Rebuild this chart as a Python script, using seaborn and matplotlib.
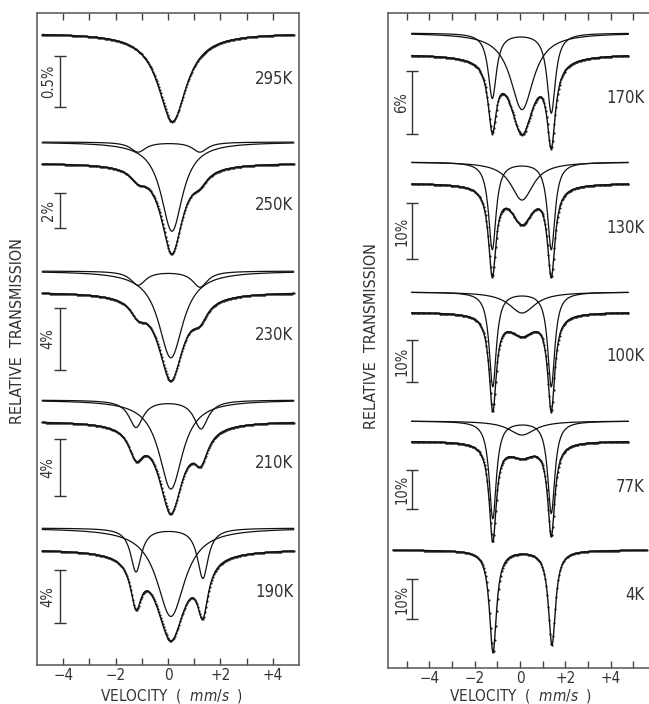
import numpy as np
import matplotlib.pyplot as plt
import seaborn as sns

# Mossbauer spectra
# line positions in mm/s, depths in %, half widths in mm/s
left_temps = ["295K", "250K", "230K", "210K", "190K"]
left_bar_pct = [0.5, 2, 4, 4, 4]
left_sing_pos = [0.17, 0.15, 0.11, 0.11, 0.11]
left_sing_depth = [0.87, 5.1, 5.6, 6.25, 6.7]
left_sing_hw = [0.66, 0.5, 0.57, 0.55, 0.65]
left_dbl_lo = [-1.14, -1.14, -1.14, -1.22, -1.22]
left_dbl_hi = [1.22, 1.22, 1.22, 1.26, 1.33]
left_dbl_depth_lo = [0.0, 0.57, 0.9, 1.9, 3.3]
left_dbl_depth_hi = [0.0, 0.57, 1.03, 2.0, 3.8]
left_dbl_hw = [0.3, 0.35, 0.35, 0.33, 0.25]

right_temps = ["170K", "130K", "100K", "77K", "4K"]
right_bar_pct = [6, 10, 10, 10, 10]
right_sing_pos = [0.09, 0.09, 0.09, 0.09, 0.09]
right_sing_depth = [7.3, 6.8, 5.0, 3.6, 0.0]
right_sing_hw = [0.62, 0.6, 0.7, 0.7, 0.6]
right_dbl_lo = [-1.22, -1.22, -1.2, -1.2, -1.19]
right_dbl_hi = [1.38, 1.38, 1.38, 1.38, 1.41]
right_dbl_depth_lo = [6.2, 15.6, 22.5, 25.0, 25.5]
right_dbl_depth_hi = [7.6, 15.6, 22.5, 23.6, 23.7]
right_dbl_hw = [0.22, 0.2, 0.19, 0.19, 0.19]

# stacking layout (vertical offsets, units per %)
left_base_fit = [None, 129, 258, 387, 515]
left_base_data = [20, 150, 279, 408, 536]
left_scale = [102, 17.5, 15.5, 14.25, 13.2]
left_bar_top = [43, 180, 295, 426, 557]
left_label_y = [66, 192, 322, 450, 579]

right_base_fit = [20, 149, 279, 408, None]
right_base_data = [41, 170, 299, 428, 537]
right_scale = [10.5, 5.6, 4.2, 3.9, 4.0]
right_bar_top = [58, 190, 327, 457, 566]
right_label_y = [85, 215, 343, 474, 582]

sns.set_style("white")
plt.rcParams["font.family"] = ["DejaVu Sans"]
plt.rcParams["font.stretch"] = "condensed"
plt.rcParams["mathtext.fontset"] = "dejavusans"
TXT = "#333333"
LINE = "#111111"


def lor(v, pos, depth, hw):
    return depth / (1 + ((v - pos) / hw) ** 2)


def draw_panel(ax, temps, bar_pct, sp, sd, sw, dlo, dhi, ddlo, ddhi, dw,
               base_fit, base_data, scale, bar_top, label_y,
               vmax, vmax_last, bar_x, pct_x, lab_x):
    for i in range(len(temps)):
        vm = vmax_last if i == len(temps) - 1 else vmax
        v = np.linspace(-vm, vm, 400)
        sing = lor(v, sp[i], sd[i], sw[i])
        dbl = lor(v, dlo[i], ddlo[i], dw[i]) + lor(v, dhi[i], ddhi[i], dw[i])
        total = sing + dbl
        k = scale[i]
        if base_fit[i] is not None:
            sns.lineplot(x=v, y=base_fit[i] + k * sing, ax=ax, color=LINE,
                         lw=0.9, estimator=None, sort=False)
            sns.lineplot(x=v, y=base_fit[i] + k * dbl, ax=ax, color=LINE,
                         lw=0.9, estimator=None, sort=False)
        sns.lineplot(x=v, y=base_data[i] + k * total, ax=ax, color=LINE,
                     lw=1.0, estimator=None, sort=False)
        vd = np.linspace(-vm, vm, 256)
        td = lor(vd, sp[i], sd[i], sw[i]) + lor(vd, dlo[i], ddlo[i], dw[i]) \
            + lor(vd, dhi[i], ddhi[i], dw[i])
        sns.scatterplot(x=vd, y=base_data[i] + k * td, ax=ax, s=2.5,
                        color="#222222", linewidth=0)
        # scale bar
        blen = k * bar_pct[i]
        ax.errorbar(bar_x, bar_top[i] + blen / 2, yerr=blen / 2, color="#333333",
                    lw=1.0, capsize=4, capthick=1.0)
        ax.text(pct_x, bar_top[i] + blen / 2, f"{bar_pct[i]}%", rotation=90,
                ha="center", va="center", fontsize=10.5, color=TXT)
        ax.text(lab_x, label_y[i], temps[i], ha="right", va="center",
                fontsize=12, color=TXT)


fig = plt.figure(figsize=(6.49, 7.04), dpi=100)
ax1 = fig.add_axes([37 / 649, 39 / 704, 262 / 649, 652 / 704])
ax2 = fig.add_axes([388 / 649, 36 / 704, 264 / 649, 655 / 704])

draw_panel(ax1, left_temps, left_bar_pct, left_sing_pos, left_sing_depth,
           left_sing_hw, left_dbl_lo, left_dbl_hi, left_dbl_depth_lo,
           left_dbl_depth_hi, left_dbl_hw, left_base_fit, left_base_data,
           left_scale, left_bar_top, left_label_y,
           4.8, 4.8, -4.11, -4.57, 4.78)
draw_panel(ax2, right_temps, right_bar_pct, right_sing_pos, right_sing_depth,
           right_sing_hw, right_dbl_lo, right_dbl_hi, right_dbl_depth_lo,
           right_dbl_depth_hi, right_dbl_hw, right_base_fit, right_base_data,
           right_scale, right_bar_top, right_label_y,
           4.78, 5.6, -4.76, -5.2, 5.5)

ax1.set_xlim(-5, 5)
ax1.set_ylim(652, 0)
ax2.set_xlim(-5.82, 5.82)
ax2.set_ylim(655, 0)

for ax, ticks in [(ax1, range(-4, 5)), (ax2, range(-5, 6))]:
    ax.set_xticks(list(ticks))
    labs = []
    for t in ticks:
        if t % 2:
            labs.append("")
        elif t > 0:
            labs.append(f"+{t}")
        elif t < 0:
            labs.append(f"\u2212{-t}")
        else:
            labs.append("0")
    ax.set_xticklabels(labs)
    ax.set_yticks([])
    ax.tick_params(axis="x", direction="in", top=True, bottom=True, length=5,
                   width=1, colors="#444444", labelsize=11, labelcolor=TXT, pad=2)
    for s in ax.spines.values():
        s.set_color("#555555")
        s.set_linewidth(1.1)
    ax.set_xlabel("")
    ax.set_ylabel("")

fig.text(18 / 649, 1 - 331 / 704, "RELATIVE  TRANSMISSION", rotation=90,
         ha="center", va="center", fontsize=11.5, color=TXT)
fig.text(372 / 649, 1 - 336 / 704, "RELATIVE  TRANSMISSION", rotation=90,
         ha="center", va="center", fontsize=11.5, color=TXT)
fig.text(172 / 649, 1 - 696 / 704, "VELOCITY  (  $\\mathit{mm/s}$  )",
         ha="center", va="center", fontsize=11, color=TXT)
fig.text(521 / 649, 1 - 696 / 704, "VELOCITY  (  $\\mathit{mm/s}$  )",
         ha="center", va="center", fontsize=11, color=TXT)

fig.savefig("out.png", dpi=100, facecolor="white")
